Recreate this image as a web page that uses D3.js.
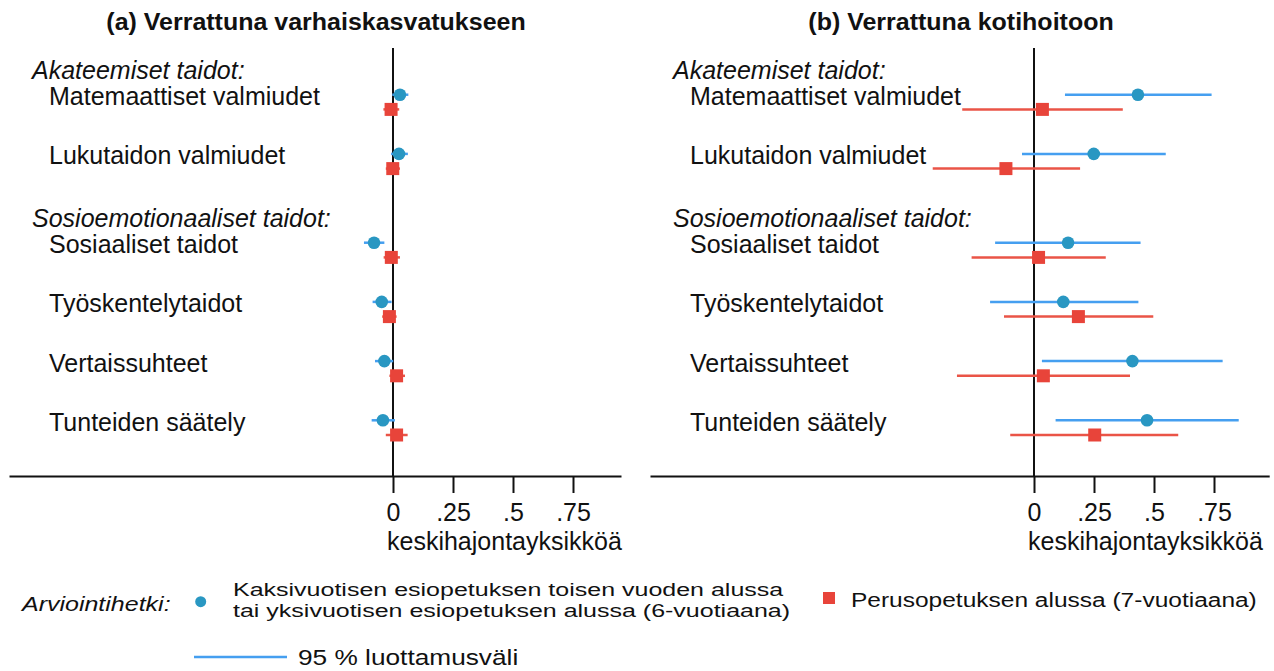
<!DOCTYPE html>
<html>
<head>
<meta charset="utf-8">
<script src="https://cdn.jsdelivr.net/npm/d3@7"></script>
<style>
  body { margin: 0; background: #fff; }
  svg { font-family: "Liberation Sans", Arial, sans-serif; }
</style>
</head>
<body>
<script>
const width = 1274,
  height = 671;

// rows and section headers
const categories = ["Matemaattiset valmiudet", "Lukutaidon valmiudet", "Sosiaaliset taidot",
  "Työskentelytaidot", "Vertaissuhteet", "Tunteiden säätely"];
const rowSlots = [1, 2, 3.5, 4.5, 5.5, 6.5];
const headers = ["Akateemiset taidot:", "Sosioemotionaaliset taidot:"];
const headerRows = [0, 2];
const tickValues = [0, 0.25, 0.5, 0.75];
const tickLabels = ["0", ".25", ".5", ".75"];

// (a) compared with early childhood education
const aBlue = [0.029, 0.025, -0.079, -0.047, -0.036, -0.042];
const aBlueLo = [-0.003, -0.008, -0.121, -0.085, -0.075, -0.089];
const aBlueHi = [0.064, 0.062, -0.036, -0.006, 0.001, 0.008];
const aRed = [-0.008, -0.001, -0.007, -0.015, 0.015, 0.015];
const aRedLo = [-0.040, -0.030, -0.039, -0.045, -0.015, -0.030];
const aRedHi = [0.026, 0.029, 0.029, 0.015, 0.050, 0.061];

// (b) compared with home care
const bBlue = [0.433, 0.249, 0.142, 0.122, 0.410, 0.471];
const bBlueLo = [0.129, -0.050, -0.162, -0.183, 0.033, 0.090];
const bBlueHi = [0.740, 0.549, 0.444, 0.435, 0.786, 0.853];
const bRed = [0.035, -0.117, 0.019, 0.185, 0.039, 0.253];
const bRedLo = [-0.299, -0.422, -0.260, -0.125, -0.321, -0.099];
const bRedHi = [0.370, 0.192, 0.299, 0.497, 0.400, 0.601];

const blueDot = "#2997c2",
  blueLine = "#459ff0",
  redDot = "#e8443a",
  redLine = "#ea5447",
  ink = "#111";

const svg = d3.select("body").append("svg")
  .attr("width", width)
  .attr("height", height);

const y = d3.scaleLinear().domain([1, 6.5]).range([94.7, 420.3]);
const redOffset = 14.7,
  axisY = 476;

const panels = [
  {title: "(a) Verrattuna varhaiskasvatukseen", titleX: 316, labelX: 32,
    x: d3.scaleLinear().domain([-1.6, 0.95]).range([9, 621]),
    blue: aBlue, blueLo: aBlueLo, blueHi: aBlueHi, red: aRed, redLo: aRedLo, redHi: aRedHi},
  {title: "(b) Verrattuna kotihoitoon", titleX: 961, labelX: 673,
    x: d3.scaleLinear().domain([-1.6, 0.98]).range([650, 1269.2]),
    blue: bBlue, blueLo: bBlueLo, blueHi: bBlueHi, red: bRed, redLo: bRedLo, redHi: bRedHi}
];

panels.forEach(function(p) {
  const g = svg.append("g");
  const x = p.x;

  g.append("text")
    .attr("transform", "translate(" + p.titleX + ",30) scale(1,0.93)")
    .attr("text-anchor", "middle")
    .attr("font-size", 25)
    .attr("font-weight", "bold")
    .attr("fill", ink)
    .text(p.title);

  // section headers and row labels
  g.selectAll(".header")
    .data(headers)
    .enter().append("text")
      .attr("x", p.labelX)
      .attr("y", function(d, i) { return y(rowSlots[headerRows[i]]) - 16; })
      .attr("font-size", 25)
      .attr("font-style", "italic")
      .attr("fill", ink)
      .text(function(d) { return d; });

  g.selectAll(".label")
    .data(categories)
    .enter().append("text")
      .attr("x", p.labelX + 17)
      .attr("y", function(d, i) { return y(rowSlots[i]) + 10.5; })
      .attr("font-size", 25)
      .attr("fill", ink)
      .text(function(d) { return d; });

  // zero line
  g.append("line")
    .attr("x1", x(0)).attr("x2", x(0))
    .attr("y1", 48).attr("y2", axisY)
    .attr("stroke", ink)
    .attr("stroke-width", 2);

  // x axis
  const axis = g.append("g")
    .attr("transform", "translate(0," + axisY + ")")
    .call(d3.axisBottom(x)
      .tickValues(tickValues)
      .tickSizeInner(17)
      .tickSizeOuter(0)
      .tickPadding(10)
      .tickFormat(function(d, i) { return tickLabels[i]; }));
  axis.select(".domain").attr("stroke", ink).attr("stroke-width", 2);
  axis.selectAll(".tick line").attr("stroke", ink).attr("stroke-width", 2);
  axis.selectAll(".tick text")
    .attr("font-size", 25)
    .attr("font-family", "Liberation Sans, Arial, sans-serif")
    .attr("fill", ink);

  g.append("text")
    .attr("x", x(0) - 6)
    .attr("y", 550)
    .attr("font-size", 25)
    .attr("fill", ink)
    .text("keskihajontayksikköä");

  const idx = d3.range(categories.length);

  // confidence intervals
  g.selectAll(".ciBlue")
    .data(idx)
    .enter().append("line")
      .attr("x1", function(i) { return x(p.blueLo[i]); })
      .attr("x2", function(i) { return x(p.blueHi[i]); })
      .attr("y1", function(i) { return y(rowSlots[i]); })
      .attr("y2", function(i) { return y(rowSlots[i]); })
      .attr("stroke", blueLine)
      .attr("stroke-width", 2.5);

  g.selectAll(".ciRed")
    .data(idx)
    .enter().append("line")
      .attr("x1", function(i) { return x(p.redLo[i]); })
      .attr("x2", function(i) { return x(p.redHi[i]); })
      .attr("y1", function(i) { return y(rowSlots[i]) + redOffset; })
      .attr("y2", function(i) { return y(rowSlots[i]) + redOffset; })
      .attr("stroke", redLine)
      .attr("stroke-width", 2.5);

  // point estimates
  g.selectAll(".dot")
    .data(idx)
    .enter().append("circle")
      .attr("cx", function(i) { return x(p.blue[i]); })
      .attr("cy", function(i) { return y(rowSlots[i]); })
      .attr("r", 6.3)
      .attr("fill", blueDot);

  g.selectAll(".square")
    .data(idx)
    .enter().append("rect")
      .attr("x", function(i) { return x(p.red[i]) - 6.5; })
      .attr("y", function(i) { return y(rowSlots[i]) + redOffset - 6.5; })
      .attr("width", 13)
      .attr("height", 13)
      .attr("fill", redDot);
});

// legend
const legend = svg.append("g").attr("fill", ink).attr("font-size", 25);

legend.append("text")
  .attr("transform", "translate(22,611) scale(1,0.8)")
  .attr("font-style", "italic")
  .text("Arviointihetki:");

legend.append("circle")
  .attr("cx", 200.7).attr("cy", 601.7).attr("r", 5.5)
  .attr("fill", blueDot);

legend.append("text")
  .attr("transform", "translate(233,596) scale(1,0.74)")
  .text("Kaksivuotisen esiopetuksen toisen vuoden alussa");
legend.append("text")
  .attr("transform", "translate(233,617) scale(1,0.74)")
  .text("tai yksivuotisen esiopetuksen alussa (6-vuotiaana)");

legend.append("rect")
  .attr("x", 823).attr("y", 592).attr("width", 12).attr("height", 12)
  .attr("fill", redDot);

legend.append("text")
  .attr("transform", "translate(851,607) scale(0.98,0.8)")
  .text("Perusopetuksen alussa (7-vuotiaana)");

legend.append("line")
  .attr("x1", 194).attr("x2", 287)
  .attr("y1", 657).attr("y2", 657)
  .attr("stroke", blueLine)
  .attr("stroke-width", 2.5);

legend.append("text")
  .attr("transform", "translate(298,665) scale(1.05,0.9)")
  .text("95 % luottamusväli");
</script>
</body>
</html>
